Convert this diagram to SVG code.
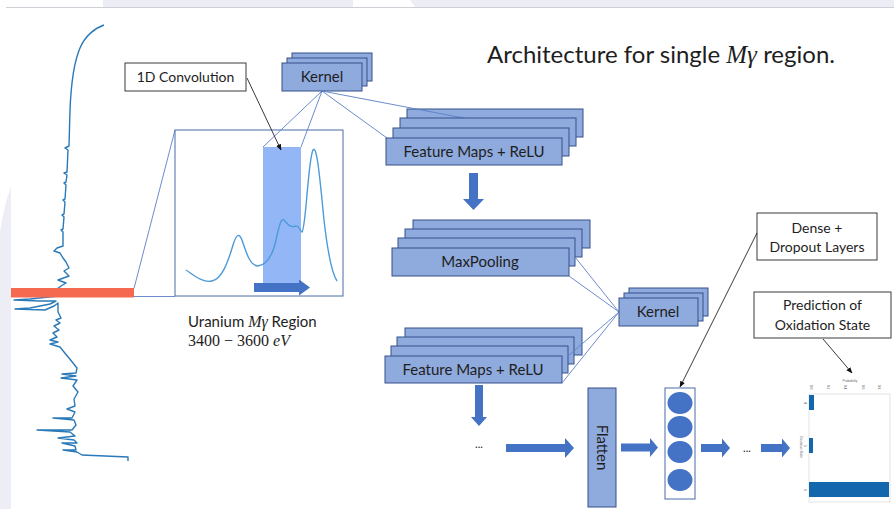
<svg xmlns="http://www.w3.org/2000/svg" width="894" height="509" viewBox="0 0 894 509">
  <defs>
    <style>
      .box { fill: #8faadc; stroke: #34518a; stroke-width: 1; }
      .lbl { fill: #ffffff; stroke: #3a3a3a; stroke-width: 1; }
      .t { font-family: Lato, "Liberation Sans", sans-serif; fill: #1e1e1e; }
      .math { font-family: "Liberation Serif", serif; font-style: italic; }
      .thin { stroke: #5b7fc7; stroke-width: 0.9; fill: none; }
      .blk { fill: #4472c4; }
      .ptr { stroke: #222; stroke-width: 0.9; fill: none; marker-end: url(#tip); }
      .tiny { font-family: "Liberation Sans", sans-serif; font-size: 3.2px; fill: #666; }
    </style>
    <marker id="tip" viewBox="0 0 10 10" refX="9" refY="5" markerWidth="7" markerHeight="7" orient="auto">
      <path d="M0,1 L10,5 L0,9 z" fill="#111"/>
    </marker>
  </defs>

  <!-- page frame -->
  <rect x="0" y="0" width="894" height="509" fill="#ffffff"/>
  <rect x="103" y="0" width="250" height="7" fill="#ededf5"/>
  <path d="M410,0 L894,0 L894,7 L415,7 Q412,3 410,0 z" fill="#ededf5"/>
  <line x1="6" y1="7.5" x2="894" y2="7.5" stroke="#cfcfd8" stroke-width="1"/>
  <path d="M11,187 Q4,205 0,232 L0,509 L11,509 z" fill="#ededf5"/>

  <!-- full spectrum, energy running downwards -->
  <g id="spectrum">
    <path fill="none" stroke="#2a79b8" stroke-width="1.4" stroke-linejoin="round"
      d="M104,25 C95,28 85,36 80,48 C74,62 71,85 70,110 L69,146 L65,148 L68,150 L67,172 L64,173 L67,175 L66,182 L64,183 L66,185
         L65,199 L63,200 L65,202 L64,214 L62,215 L64,217 L63,229 L61,230 L63,232 L63,246
         L57,248 L54,251 L60,253 L63,258 L66,262 L69,268 L64,271 L69,276 L58,280 L66,283 L61,286 L57,289
         L50,292 L46,294 L58,296 L30,299 L14,300 L40,301 L56,301 L50,304 L30,308 L15,309 L45,310 L54,306 L58,303
         L58,312 L61,318 L56,320 L60,323 L54,326 L59,330 L53,333 L57,337 L50,340 L58,342 L50,344 L60,347
         L64,352 L69,358 L73,363 L77,368 L76,373 L62,374 L76,376 L61,378 L77,380 L73,386 L78,392 L74,399 L75,406
         L67,409 L75,412 L72,418 L53,418 L74,420 L76,425 L72,430 L37,430 L70,432 L75,436 L58,438 L74,440 L77,443 L62,443
         L75,446 L76,450 L63,450 L77,452 L82,455 L128,457 L128,461" />
    <rect x="11" y="288" width="123" height="9.5" fill="#f4694f"/>
  </g>

  <g id="connectors">
    <!-- zoom lines from the marked strip to the region panel -->
    <line class="thin" x1="134" y1="288.5" x2="175" y2="130"/>
    <line class="thin" x1="134" y1="296.5" x2="175" y2="296.5"/>
  </g>

  <!-- zoomed region panel -->
  <g id="region">
    <rect x="175" y="130" width="168" height="166" fill="#ffffff" stroke="#4a6aa8" stroke-width="1"/>
    <rect x="263" y="147" width="38" height="138" fill="#8db3f6" opacity="0.95"/>
    <path fill="none" stroke="#4c9ad8" stroke-width="1.4"
      d="M186,270 C195,276 203,283 212,281 C222,279 228,262 233,245 C236,235 239,232 242,240 C246,252 250,266 258,266
         C266,265 272,258 276,240 C279,226 281,218 284,220 C288,225 291,228 296,226 C299,225 300,231 302,232
         C306,228 308,160 313,150 C317,144 320,180 324,220 C328,255 333,275 337,281"/>
    <path class="blk" d="M254,283 L299,283 L299,279.5 L310,287.5 L299,295.5 L299,292 L254,292 z"/>
  </g>

  <g id="connectors-kernel">
    <line class="thin" x1="322" y1="91" x2="263" y2="147"/>
    <line class="thin" x1="322" y1="91" x2="301" y2="147"/>
    <line class="thin" x1="322" y1="91" x2="387" y2="138"/>
  </g>

  <!-- first kernel stack -->
  <g id="kernel1">
    <rect class="box" x="292" y="53" width="80" height="28"/>
    <rect class="box" x="287" y="58" width="80" height="28"/>
    <rect class="box" x="282" y="63" width="80" height="28"/>
    <text class="t" x="322" y="82" font-size="15" text-anchor="middle">Kernel</text>
  </g>

  <!-- first feature map stack -->
  <g id="featuremaps1">
    <rect class="box" x="407" y="109" width="176" height="28"/>
    <line class="thin" x1="322" y1="91" x2="563" y2="137"/>
    <rect class="box" x="400" y="118" width="176" height="28"/>
    <rect class="box" x="393" y="128" width="176" height="28"/>
    <rect class="box" x="386" y="138" width="176" height="27"/>
    <text class="t" x="474" y="157" font-size="15" text-anchor="middle">Feature Maps + ReLU</text>
  </g>

  <g id="arrow-down1">
    <path class="blk" d="M469,173 L478,173 L478,199 L484,199 L473.5,210 L463,199 L469,199 z"/>
  </g>

  <!-- max pooling stack -->
  <g id="maxpooling">
    <rect class="box" x="413" y="220" width="177" height="28"/>
    <rect class="box" x="405" y="229" width="177" height="28"/>
    <rect class="box" x="398" y="238" width="177" height="28"/>
    <rect class="box" x="392" y="248" width="177" height="28"/>
    <text class="t" x="480" y="267" font-size="15" text-anchor="middle">MaxPooling</text>
  </g>

  <!-- second feature map stack -->
  <g id="featuremaps2">
    <rect class="box" x="405" y="328" width="177" height="27"/>
    <rect class="box" x="397" y="337" width="177" height="27"/>
    <rect class="box" x="391" y="346" width="177" height="27"/>
    <rect class="box" x="385" y="356" width="177" height="27"/>
    <text class="t" x="473" y="375" font-size="15" text-anchor="middle">Feature Maps + ReLU</text>
  </g>

  <g id="connectors-kernel2">
    <line class="thin" x1="619" y1="312" x2="575" y2="257"/>
    <line class="thin" x1="619" y1="312" x2="569" y2="276"/>
    <line class="thin" x1="619" y1="312" x2="568" y2="356"/>
    <line class="thin" x1="619" y1="312" x2="562" y2="383"/>
  </g>

  <!-- second kernel stack -->
  <g id="kernel2">
    <rect class="box" x="629" y="288" width="79" height="28"/>
    <rect class="box" x="624" y="293" width="79" height="28"/>
    <rect class="box" x="619" y="298" width="79" height="28"/>
    <text class="t" x="658" y="317" font-size="15" text-anchor="middle">Kernel</text>
  </g>

  <g id="arrow-down2">
    <path class="blk" d="M475,385 L483,385 L483,417 L487,417 L479,426 L471,417 L475,417 z"/>
  </g>

  <text class="t" x="479" y="448" font-size="11" text-anchor="middle">...</text>

  <g id="block-arrows">
    <path class="blk" d="M506,444 L565,444 L565,438 L574,448 L565,458 L565,452 L506,452 z"/>
    <path class="blk" d="M621,443.5 L650,443.5 L650,438 L658,447.5 L650,457 L650,451.5 L621,451.5 z"/>
    <path class="blk" d="M701,444 L722,444 L722,438.5 L730,448 L722,457.5 L722,452 L701,452 z"/>
    <path class="blk" d="M761,444 L782,444 L782,438.5 L790,448 L782,457.5 L782,452 L761,452 z"/>
  </g>

  <text class="t" x="747" y="452" font-size="11" text-anchor="middle">...</text>

  <!-- flatten layer -->
  <g id="flatten">
    <rect class="box" x="588" y="388" width="28" height="119"/>
    <text class="t" font-size="15" text-anchor="middle" transform="translate(602,447.5) rotate(90)" y="5">Flatten</text>
  </g>

  <!-- dense neurons -->
  <g id="dense">
    <rect x="665" y="388" width="30" height="111" fill="#ffffff" stroke="#4a6aa8" stroke-width="1"/>
    <ellipse class="blk" cx="680" cy="403" rx="12.5" ry="11"/>
    <ellipse class="blk" cx="680" cy="427" rx="12.5" ry="11"/>
    <ellipse class="blk" cx="680" cy="452" rx="12.5" ry="11"/>
    <ellipse class="blk" cx="680" cy="480" rx="12.5" ry="11"/>
  </g>

  <!-- prediction chart -->
  <g id="prediction">
    <rect x="809" y="394" width="81" height="108" fill="#ffffff" stroke="#d8d8d8" stroke-width="0.7"/>
    <rect x="809" y="395" width="5" height="15" fill="#1368ad"/>
    <rect x="809" y="438" width="4" height="15" fill="#1368ad"/>
    <rect x="809" y="482" width="80" height="15" fill="#1368ad"/>
    <text class="tiny" x="850" y="382" text-anchor="middle">Probability</text>
    <g class="tiny" text-anchor="middle">
      <text transform="translate(810,387) rotate(90)">0.0</text>
      <text transform="translate(827,387) rotate(90)">0.2</text>
      <text transform="translate(844,387) rotate(90)">0.4</text>
      <text transform="translate(862,387) rotate(90)">0.6</text>
      <text transform="translate(878,387) rotate(90)">0.8</text>
      <text transform="translate(804,403) rotate(90)">4</text>
      <text transform="translate(804,446) rotate(90)">5</text>
      <text transform="translate(804,490) rotate(90)">6</text>
      <text transform="translate(800,447) rotate(90)">Oxidation State</text>
    </g>
  </g>

  <!-- callout labels -->
  <g id="label-conv">
    <rect class="lbl" x="125" y="63" width="121" height="28"/>
    <text class="t" x="185.5" y="82" font-size="14" text-anchor="middle">1D Convolution</text>
  </g>
  <g id="label-dense">
    <rect class="lbl" x="757" y="213" width="120" height="47"/>
    <text class="t" x="817" y="233" font-size="14" text-anchor="middle">Dense +</text>
    <text class="t" x="817" y="252" font-size="14" text-anchor="middle">Dropout Layers</text>
  </g>
  <g id="label-prediction">
    <rect class="lbl" x="754" y="292" width="137" height="46"/>
    <text class="t" x="822.5" y="310" font-size="14" text-anchor="middle">Prediction of</text>
    <text class="t" x="822.5" y="330" font-size="14" text-anchor="middle">Oxidation State</text>
  </g>

  <g id="connectors-callouts">
    <line class="ptr" x1="247" y1="78" x2="281" y2="150"/>
    <line class="ptr" x1="757" y1="233" x2="680" y2="387"/>
    <line class="ptr" x1="823" y1="339" x2="852" y2="373"/>
  </g>

  <!-- captions -->
  <text class="t" x="188" y="327" font-size="15">Uranium <tspan class="math" font-size="16">Mγ</tspan> Region</text>
  <text x="188" y="345.5" font-size="16" font-family="'Liberation Serif', serif" fill="#1e1e1e">3400 − 3600 <tspan font-style="italic">eV</tspan></text>

  <text class="t" x="487" y="63" font-size="24" fill="#262626">Architecture for single <tspan class="math" font-size="25">Mγ</tspan> region.</text>
</svg>
